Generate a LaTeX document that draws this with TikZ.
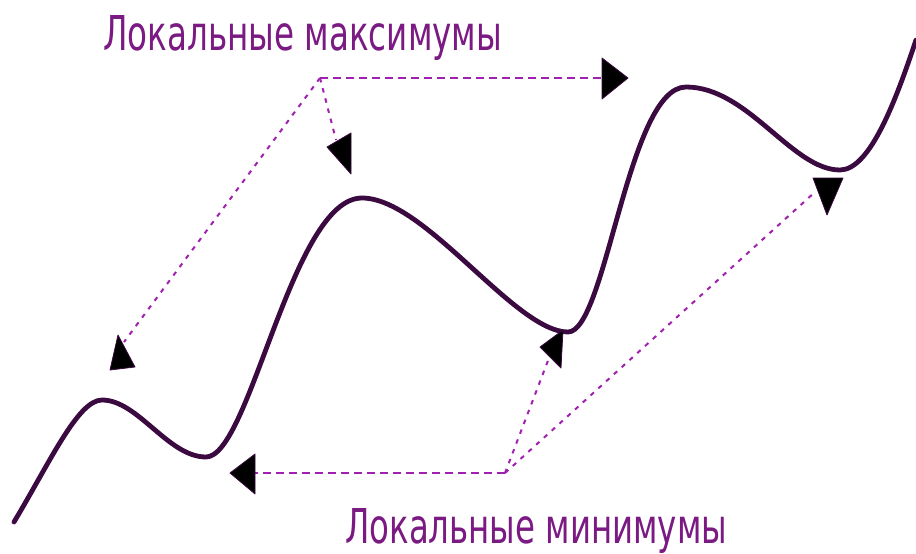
\documentclass[tikz,border=0pt]{standalone}
\usepackage{fontspec}
\setmainfont{DejaVu Sans}
\usepackage{graphicx}
\definecolor{curvecol}{HTML}{3A0A40}
\definecolor{dashcol}{HTML}{A020B0}
\definecolor{textcol}{HTML}{7A1A82}
\tikzset{
  curveline/.style={draw=curvecol, line width=4.8pt, line join=round, line cap=round},
  hdash/.style={draw=dashcol, line width=2.2pt, dash pattern=on 8pt off 5pt},
  ddash/.style={draw=dashcol, line width=2pt, dash pattern=on 4.5pt off 6pt},
  headfill/.style={fill=black, draw=curvecol, line width=0.8pt, line join=round},
  lbl/.style={anchor=base west, inner sep=0pt, text=textcol}
}
\begin{document}
\begin{tikzpicture}[x=1pt,y=-1pt]
\useasboundingbox[fill=white] (0,0) rectangle (916,554);
% labels
\node[lbl] (maxlbl) at (103,50) {\resizebox{399pt}{35pt}{Локальные максимумы}};
\node[lbl] (minlbl) at (345,543) {\resizebox{382pt}{35pt}{Локальные минимумы}};
% hubs and ends
\coordinate (hubT) at (320,78);
\coordinate (hubB) at (505,473);
\coordinate (eR) at (603,78);
\coordinate (eM2) at (336,140);
\coordinate (eM1) at (124,342);
\coordinate (eL) at (254,473);
\coordinate (eN2) at (549,358);
\coordinate (eN3) at (815,192);
% curve
\path[curveline] (14,522) .. controls (50,462) and (78,400) .. (102,400)
  .. controls (138,400) and (168,457) .. (206,457)
  .. controls (250,457) and (292,198) .. (362,198)
  .. controls (425,198) and (515,332) .. (568,332)
  .. controls (606,332) and (628,87) .. (686,87)
  .. controls (748,87) and (792,170) .. (840,170)
  .. controls (870,170) and (896,100) .. (916,40);
% dashed connectors
\draw[hdash] (hubT) -- (eR);
\draw[ddash] (hubT) -- (eM2);
\draw[ddash] (hubT) -- (eM1);
\draw[hdash] (hubB) -- (eL);
\draw[ddash] (hubB) -- (eN2);
\draw[ddash] (hubB) -- (eN3);
% arrowheads
\path[headfill] (602,58) -- (628,78) -- (602,99) -- cycle;
\path[headfill] (327,147) -- (351,133) -- (351,174) -- cycle;
\path[headfill] (118,335) -- (135,367) -- (110,370) -- cycle;
\path[headfill] (255,454) -- (230,473) -- (255,494) -- cycle;
\path[headfill] (540,347) -- (563,330) -- (561,368) -- cycle;
\path[headfill] (813,178) -- (843,178) -- (827,215) -- cycle;
\end{tikzpicture}
\end{document}
